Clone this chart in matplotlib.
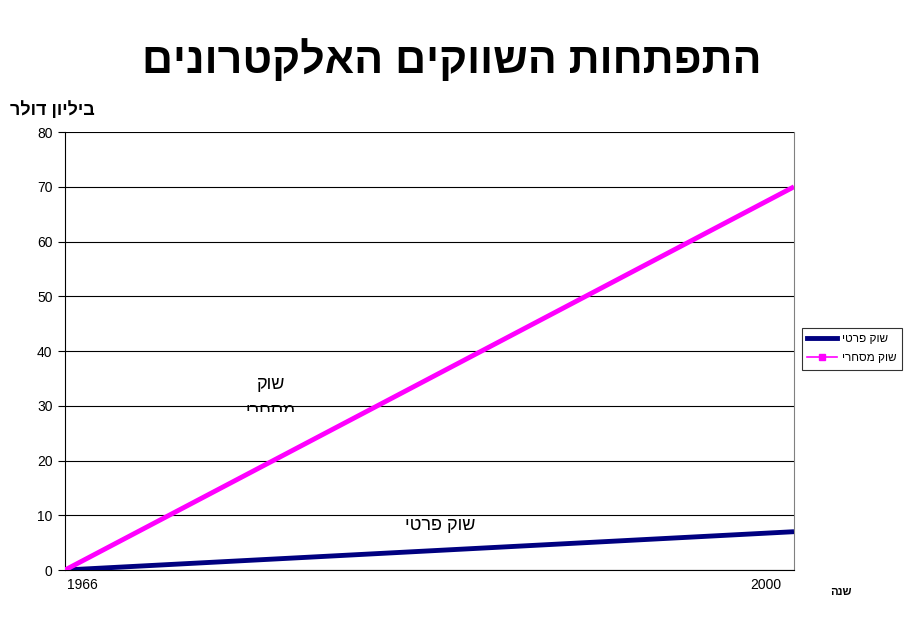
import matplotlib
matplotlib.use('Agg')
import matplotlib.pyplot as plt
from matplotlib.patches import Rectangle
from matplotlib.lines import Line2D

plt.rcParams['font.family'] = ['Liberation Sans', 'DejaVu Sans']


def rtl(s):
    # matplotlib has no bidi support, so hand it the visual order
    return s[::-1]


# data
years = [1966, 2000]
private_market = [0, 7]
commercial_market = [0, 70]
series_names = ['שוק פרטי', 'שוק מסחרי']
title = 'התפתחות השווקים האלקטרונים'
y_label = 'ביליון דולר'
x_label = 'שנה'
y_ticks = [0, 10, 20, 30, 40, 50, 60, 70, 80]

navy = '#000080'
magenta = '#FF00FF'

fig = plt.figure(figsize=(9.09, 6.21), dpi=100)
ax = fig.add_axes([0.0715, 0.0821, 0.802, 0.7053])

# gridlines
for y in y_ticks:
    ax.axhline(y, color='black', linewidth=0.8, zorder=1)

ax.plot(years, private_market, color=navy, linewidth=3.5, zorder=3,
        solid_capstyle='butt')
ax.plot(years, commercial_market, color=magenta, linewidth=3.5, zorder=3,
        solid_capstyle='butt')

ax.set_xlim(years[0], years[-1])
ax.set_ylim(0, 80)
ax.set_yticks(y_ticks)
ax.set_xticks([])
ax.tick_params(axis='y', length=5, direction='out', labelsize=10, pad=4)

# year labels sit a bit inside the axis ends, like the category axis in the original
for yr, dx in zip(years, [12.2, -20.5]):
    ax.annotate(str(yr), xy=(yr, 0), xycoords=('data', 'axes fraction'),
                xytext=(dx, -6), textcoords='offset points',
                ha='center', va='top', fontsize=10)

ax.spines['left'].set_color('black')
ax.spines['bottom'].set_color('black')
ax.spines['top'].set_visible(False)
ax.spines['right'].set_color('#808080')

# labels in the plot
ax.text(1975.6, 33.8, rtl('שוק'), fontsize=13, ha='center', va='center', zorder=2)
t = ax.text(1975.6, 29.0, rtl('מסחרי'), fontsize=13, ha='center', va='center',
            zorder=2, clip_on=True)
t.set_clip_path(Rectangle((1966, 28.8), 34, 60, transform=ax.transData))
ax.text(1983.5, 8.2, rtl(series_names[0]), fontsize=13, ha='center', va='center')

# title and axis captions
fig.text(0.497, 0.902, rtl(title), fontsize=31, fontweight='bold',
         ha='center', va='center')
fig.text(0.011, 0.823, rtl(y_label), fontsize=13, fontweight='bold',
         ha='left', va='center')
fig.text(0.925, 0.047, rtl(x_label), fontsize=8, fontweight='bold',
         ha='center', va='center')

handles = [
    Line2D([], [], color=navy, linewidth=3.5),
    Line2D([], [], color=magenta, linewidth=1.2, marker='s', markersize=5),
]
leg = ax.legend(handles, [rtl(n) for n in series_names],
                loc='center left', bbox_to_anchor=(1.011, 0.505), fontsize=8.5,
                frameon=True, fancybox=False, edgecolor='black',
                handlelength=2.5, handletextpad=0.4, borderpad=0.45,
                labelspacing=0.6, borderaxespad=0)
leg.get_frame().set_linewidth(0.8)

fig.savefig('out.png', dpi=100)
